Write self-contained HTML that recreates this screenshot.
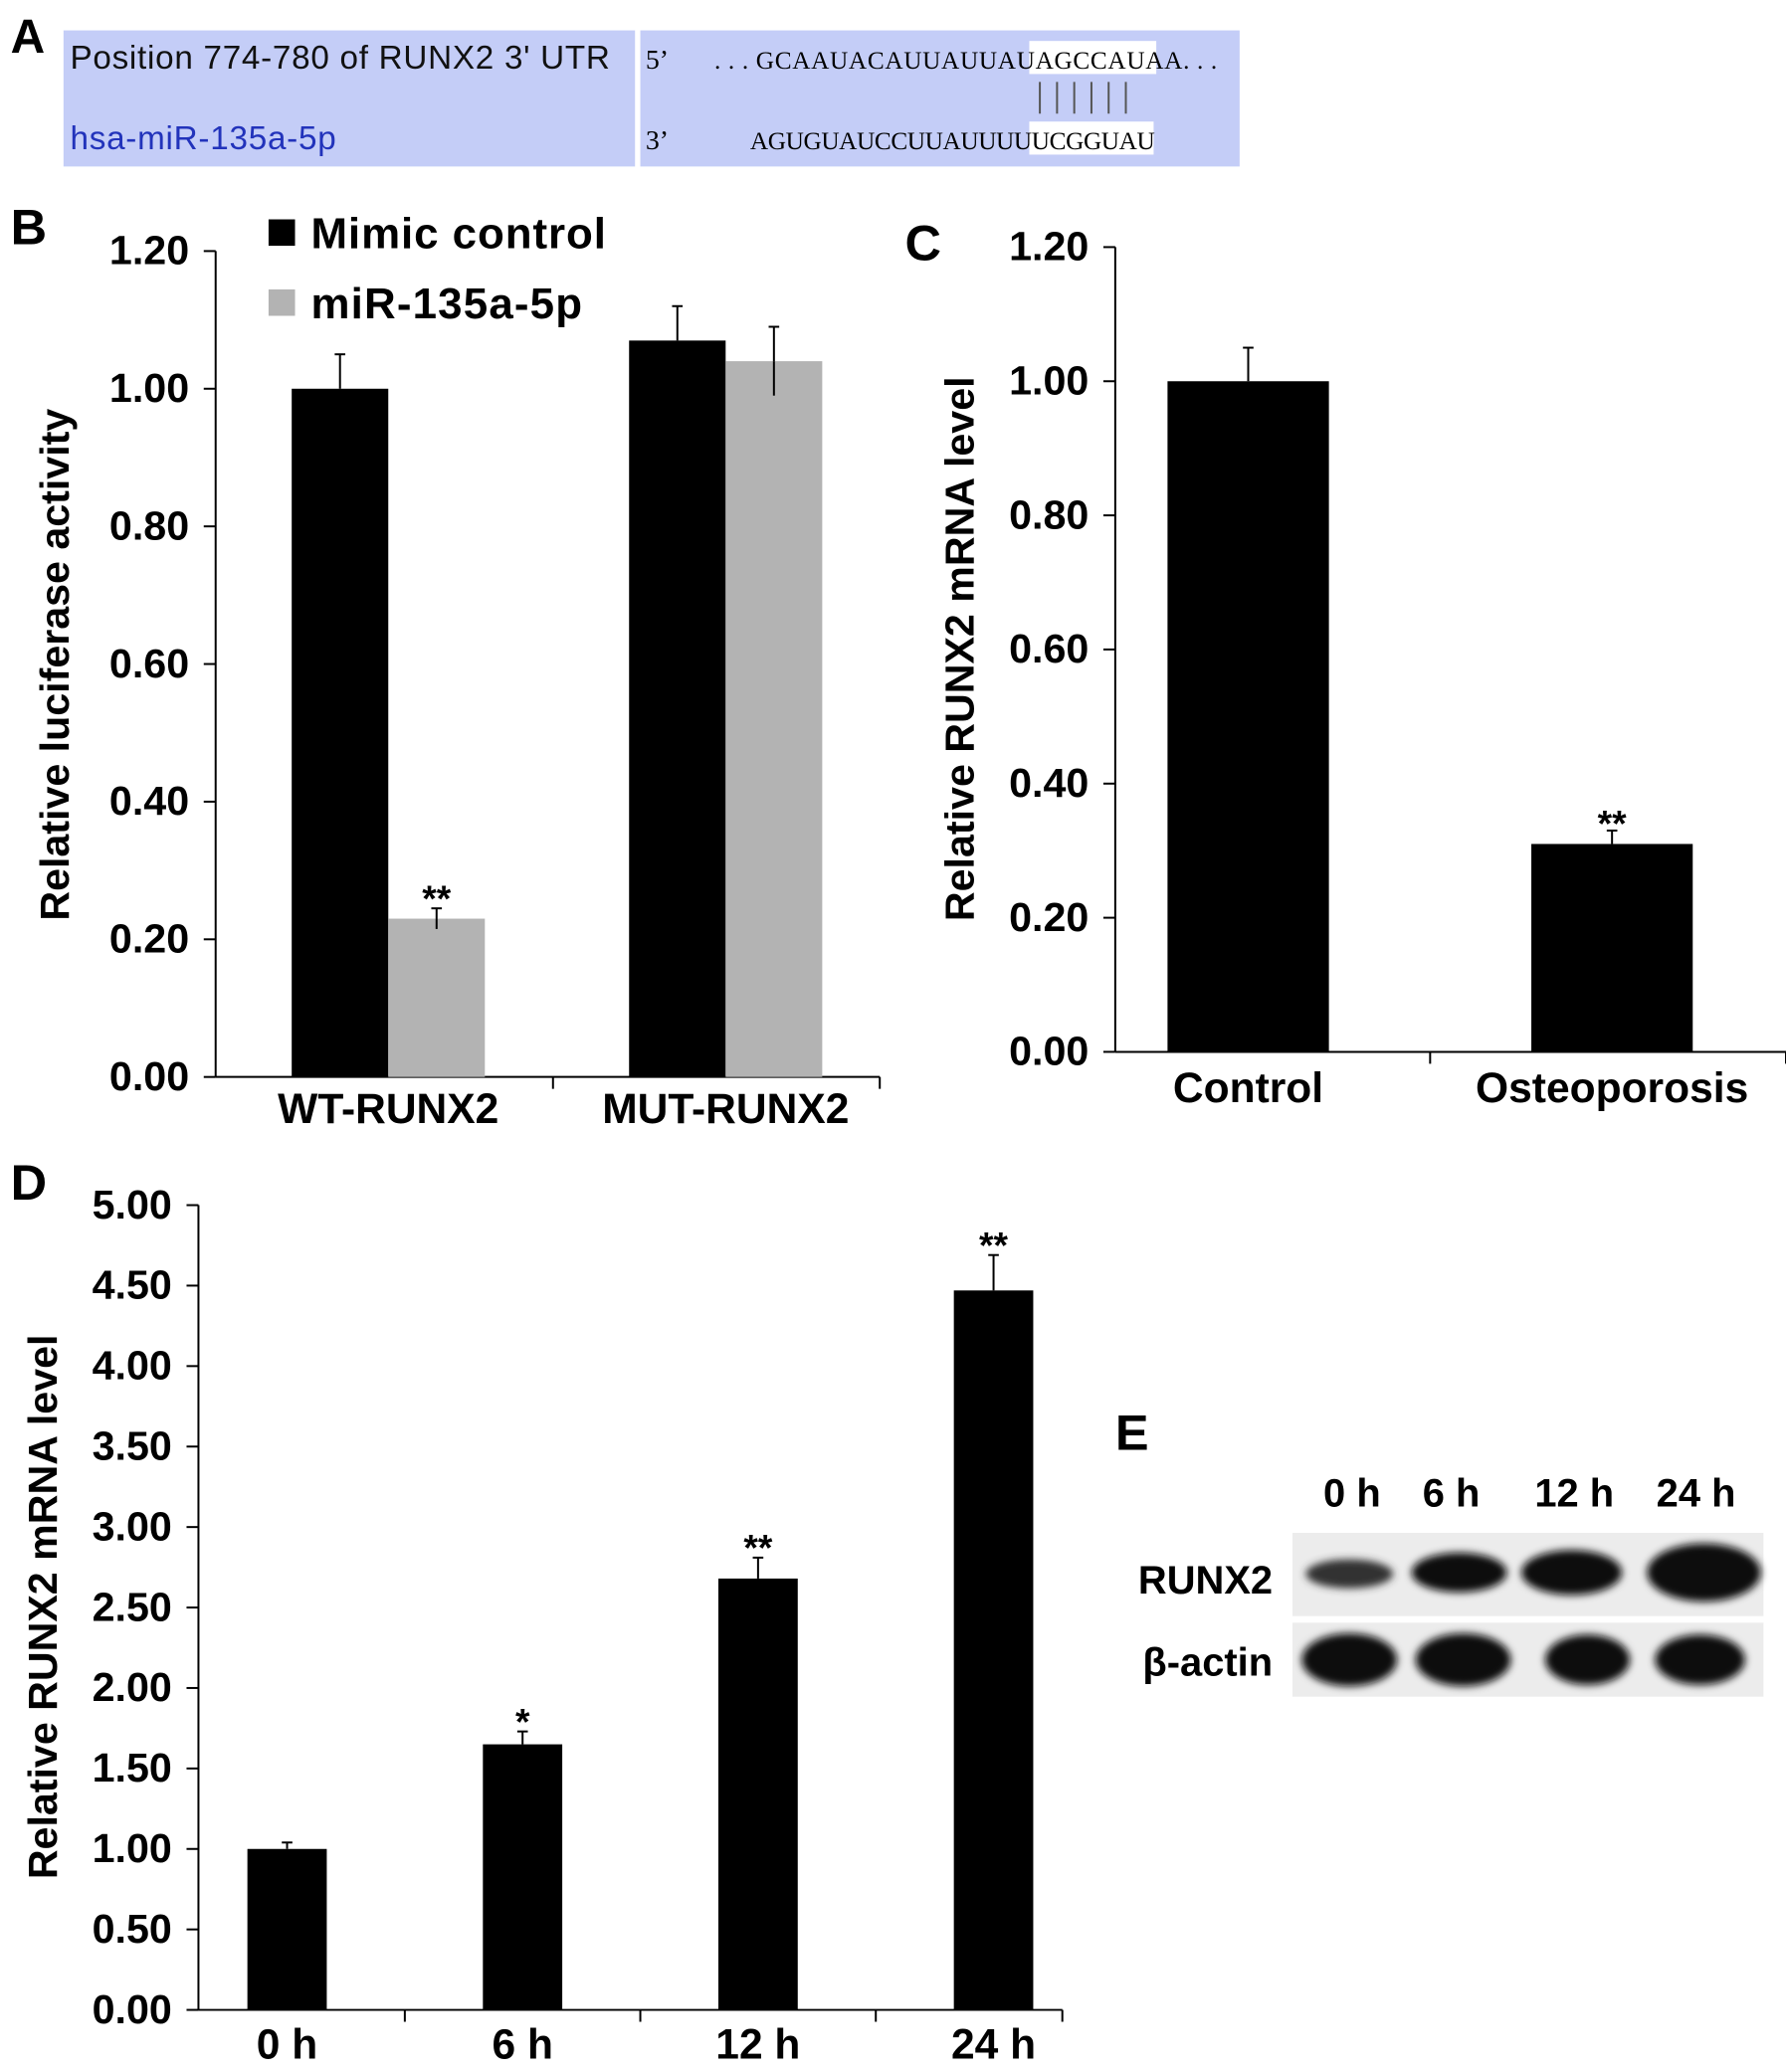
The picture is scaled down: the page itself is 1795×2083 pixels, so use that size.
<!DOCTYPE html>
<html><head><meta charset="utf-8"><style>
html,body{margin:0;padding:0;background:#fff;}
svg{display:block;}
text{font-family:"Liberation Sans Narrow","Liberation Sans",sans-serif;font-weight:bold;}
.sans{font-family:"Liberation Sans",sans-serif;}
.ser{font-family:"Liberation Serif",serif;font-weight:normal;}
</style></head><body>
<svg id="fig" width="1795" height="2083" viewBox="0 0 1350 1568" preserveAspectRatio="none" xmlns="http://www.w3.org/2000/svg">
<g>
<text x="8" y="40" font-size="36" class="sans">A</text>
<rect x="48" y="23" width="432" height="103" fill="#c4cdf7"/>
<rect x="484" y="23" width="453" height="103" fill="#c4cdf7"/>
<text x="53" y="52" font-size="25" class="sans" style="font-weight:normal" fill="#111" textLength="408">Position 774-780 of RUNX2 3' UTR</text>
<text x="53" y="113" font-size="25" class="sans" style="font-weight:normal" fill="#2233bb" textLength="201">hsa-miR-135a-5p</text>
<rect x="778" y="31" width="96" height="25" fill="#fff"/>
<rect x="778" y="92" width="94" height="25" fill="#fff"/>
<text x="488" y="52" font-size="21" class="ser">5’</text>
<text x="540" y="52" font-size="19" class="ser" textLength="380">. . . GCAAUACAUUAUUAUAGCCAUAA. . .</text>
<text x="488" y="113" font-size="21" class="ser">3’</text>
<text x="567" y="113" font-size="19" class="ser" textLength="306">AGUGUAUCCUUAUUUUUCGGUAU</text>
<g stroke="#555" stroke-width="1.5">
<line x1="786" y1="62" x2="786" y2="86"/><line x1="799" y1="62" x2="799" y2="86"/><line x1="812" y1="62" x2="812" y2="86"/><line x1="825" y1="62" x2="825" y2="86"/><line x1="838" y1="62" x2="838" y2="86"/><line x1="851" y1="62" x2="851" y2="86"/>
</g>
</g>
<g id="charts"></g>
<g>
<text x="843" y="1097" font-size="38" class="sans">E</text>
<text x="1022" y="1140" font-size="30" text-anchor="middle">0 h</text>
<text x="1097" y="1140" font-size="30" text-anchor="middle">6 h</text>
<text x="1190" y="1140" font-size="30" text-anchor="middle">12 h</text>
<text x="1282" y="1140" font-size="30" text-anchor="middle">24 h</text>
<text x="962" y="1206" font-size="30" text-anchor="end">RUNX2</text>
<text x="962" y="1268" font-size="30" text-anchor="end">β-actin</text>
<defs><filter id="bl" x="-30%" y="-50%" width="160%" height="200%"><feGaussianBlur stdDeviation="3"/></filter></defs>
<rect x="977" y="1160" width="356" height="63" fill="#ececec"/>
<rect x="977" y="1228" width="356" height="56" fill="#ececec"/>
<g filter="url(#bl)" fill="#111">
<ellipse cx="1020" cy="1191" rx="33" ry="11" fill="#333"/>
<ellipse cx="1103" cy="1190" rx="36" ry="15"/>
<ellipse cx="1188" cy="1190" rx="38" ry="17"/>
<ellipse cx="1288" cy="1190" rx="43" ry="22"/>
<ellipse cx="1020" cy="1256" rx="36" ry="20"/>
<ellipse cx="1106" cy="1256" rx="36" ry="20"/>
<ellipse cx="1200" cy="1256" rx="32" ry="19"/>
<ellipse cx="1285" cy="1256" rx="34" ry="19"/>
</g>
</g>
</svg>
<script>
// Panel B data
const bCategories = ["WT-RUNX2", "MUT-RUNX2"];
const bMimic = [1.00, 1.07];
const bMimicErr = [0.05, 0.05];
const bMir = [0.23, 1.04];
const bMirErr = [0.015, 0.05];
const bTicks = ["0.00","0.20","0.40","0.60","0.80","1.00","1.20"];
// Panel C data
const cCategories = ["Control", "Osteoporosis"];
const cValues = [1.00, 0.31];
const cErr = [0.05, 0.02];
const cTicks = ["0.00","0.20","0.40","0.60","0.80","1.00","1.20"];
// Panel D data
const dCategories = ["0 h", "6 h", "12 h", "24 h"];
const dValues = [1.00, 1.65, 2.68, 4.47];
const dErr = [0.04, 0.08, 0.13, 0.22];
const dStars = ["", "*", "**", "**"];
const dTicks = ["0.00","0.50","1.00","1.50","2.00","2.50","3.00","3.50","4.00","4.50","5.00"];

const NS = "http://www.w3.org/2000/svg";
const root = document.getElementById("charts");
function mk(tag, attrs, parent, txt){
  const e = document.createElementNS(NS, tag);
  for (const k in attrs) e.setAttribute(k, attrs[k]);
  if (txt !== undefined) e.textContent = txt;
  (parent || root).appendChild(e);
  return e;
}
// bandStart/bandW define category slots; tick marks at slot boundaries
function axes(g, x0, x1, yTop, yBot, ticks, bandStart, bandW, nCat, fs){
  const max = parseFloat(ticks[ticks.length-1]);
  const y = v => yBot - (v / max) * (yBot - yTop);
  const ax = mk("line", {x1:x0, y1:yTop, x2:x0, y2:yBot, stroke:"#000", "stroke-width":1.5}, g);
  
  
  const bx = mk("line", {x1:x0, y1:yBot, x2:x1, y2:yBot, stroke:"#000", "stroke-width":1.5}, g);
  
  
  ticks.forEach(t => {
    const v = parseFloat(t);
    mk("line", {x1:x0-9, y1:y(v), x2:x0, y2:y(v), stroke:"#000", "stroke-width":1.5}, g);
    const tl = mk("text", {x:x0-20, y:y(v)+10, "font-size":fs, "text-anchor":"end"}, g, t);
    
    
  });
  for (let i = 1; i < nCat; i++) { const tx = bandStart + i*bandW; mk("line", {x1:tx, y1:yBot, x2:tx, y2:yBot+9, stroke:"#000", "stroke-width":1.5}, g); }
  mk("line", {x1:x1, y1:yBot, x2:x1, y2:yBot+9, stroke:"#000", "stroke-width":1.5}, g);
  const cx = i => bandStart + (i + 0.5) * bandW;
  return {y, cx};
}
function bar(g, x, w, v, e, y, fill, name){
  const r = mk("rect", {x:x, y:y(v), width:w, height:y(0)-y(v), fill:fill}, g);
  
  
  const cx = x + w/2;
  mk("line", {x1:cx, y1:y(v), x2:cx, y2:y(v+e), stroke:"#000", "stroke-width":1.5}, g);
  mk("line", {x1:cx-4, y1:y(v+e), x2:cx+4, y2:y(v+e), stroke:"#000", "stroke-width":1.5}, g);
}
function star(g, cx, yy, s, fs){
  const t = mk("text", {x:cx, y:yy, "font-size":fs, "text-anchor":"middle"}, g, s);
  
  
}

// Panel B
const gB = mk("g", {});


mk("text", {x:8, y:185, "font-size":38, class:"sans"}, gB, "B");
const B = axes(gB, 163, 665, 190, 815, bTicks, 163, 255, 2, 31);
const bw = 73;
bCategories.forEach((c, i) => {
  const cx = B.cx(i) + 3;
  bar(gB, cx - bw, bw, bMimic[i], bMimicErr[i], B.y, "#000", "bar-mimic-control-" + i);
  bar(gB, cx, bw, bMir[i], bMirErr[i], B.y, "#b3b3b3", "bar-mir-135a-" + i);
  mk("line", {x1:cx+bw/2, y1:B.y(bMir[i]-bMirErr[i]), x2:cx+bw/2, y2:B.y(bMir[i]), stroke:"#000","stroke-width":1.5}, gB);
  const l = mk("text", {x:cx, y:850, "font-size":32, "text-anchor":"middle"}, gB, c);
  
  
});
star(gB, B.cx(0) + 3 + bw/2, B.y(bMir[0]+bMirErr[0]) + 2, "**", 28);
const lg1 = mk("rect", {x:203, y:166, width:20, height:20, fill:"#000"}, gB);


const lt1 = mk("text", {x:235, y:188, "font-size":33, class:"sans", textLength:223}, gB, "Mimic control");


const lg2 = mk("rect", {x:203, y:219, width:20, height:20, fill:"#b3b3b3"}, gB);


const lt2 = mk("text", {x:235, y:241, "font-size":33, class:"sans", textLength:205}, gB, "miR-135a-5p");


const yb = mk("text", {x:0, y:0, "font-size":31, class:"sans", "text-anchor":"middle", transform:"translate(52,503) rotate(-90)"}, gB, "Relative luciferase activity");



// Panel C
const gC = mk("g", {});


mk("text", {x:684, y:197, "font-size":38, class:"sans"}, gC, "C");
const C = axes(gC, 843, 1350, 187, 796, cTicks, 806, 275, 2, 31);
cCategories.forEach((c, i) => {
  const cx = C.cx(i);
  bar(gC, cx - 61, 122, cValues[i], cErr[i], C.y, "#000", "bar-" + c.toLowerCase());
  const l = mk("text", {x:cx, y:834, "font-size":32, "text-anchor":"middle"}, gC, c);
  
  
});
star(gC, C.cx(1), C.y(cValues[1]+cErr[1]) + 4, "**", 28);
const yc = mk("text", {x:0, y:0, "font-size":31, class:"sans", "text-anchor":"middle", transform:"translate(736,491) rotate(-90)"}, gC, "Relative RUNX2 mRNA level");



// Panel D
const gD = mk("g", {});


mk("text", {x:8, y:908, "font-size":38, class:"sans"}, gD, "D");
const D = axes(gD, 150, 803, 912, 1521, dTicks, 128, 178, 4, 31);
dCategories.forEach((c, i) => {
  const cx = D.cx(i);
  bar(gD, cx - 30, 60, dValues[i], dErr[i], D.y, "#000", "bar-" + c.replace(" ", ""));
  if (dStars[i]) star(gD, cx, D.y(dValues[i]+dErr[i]) + 2, dStars[i], 28);
  const l = mk("text", {x:cx, y:1558, "font-size":32, "text-anchor":"middle"}, gD, c);
  
  
});
const yd = mk("text", {x:0, y:0, "font-size":31, class:"sans", "text-anchor":"middle", transform:"translate(43,1216) rotate(-90)"}, gD, "Relative RUNX2 mRNA level");


</script>
</body></html>
